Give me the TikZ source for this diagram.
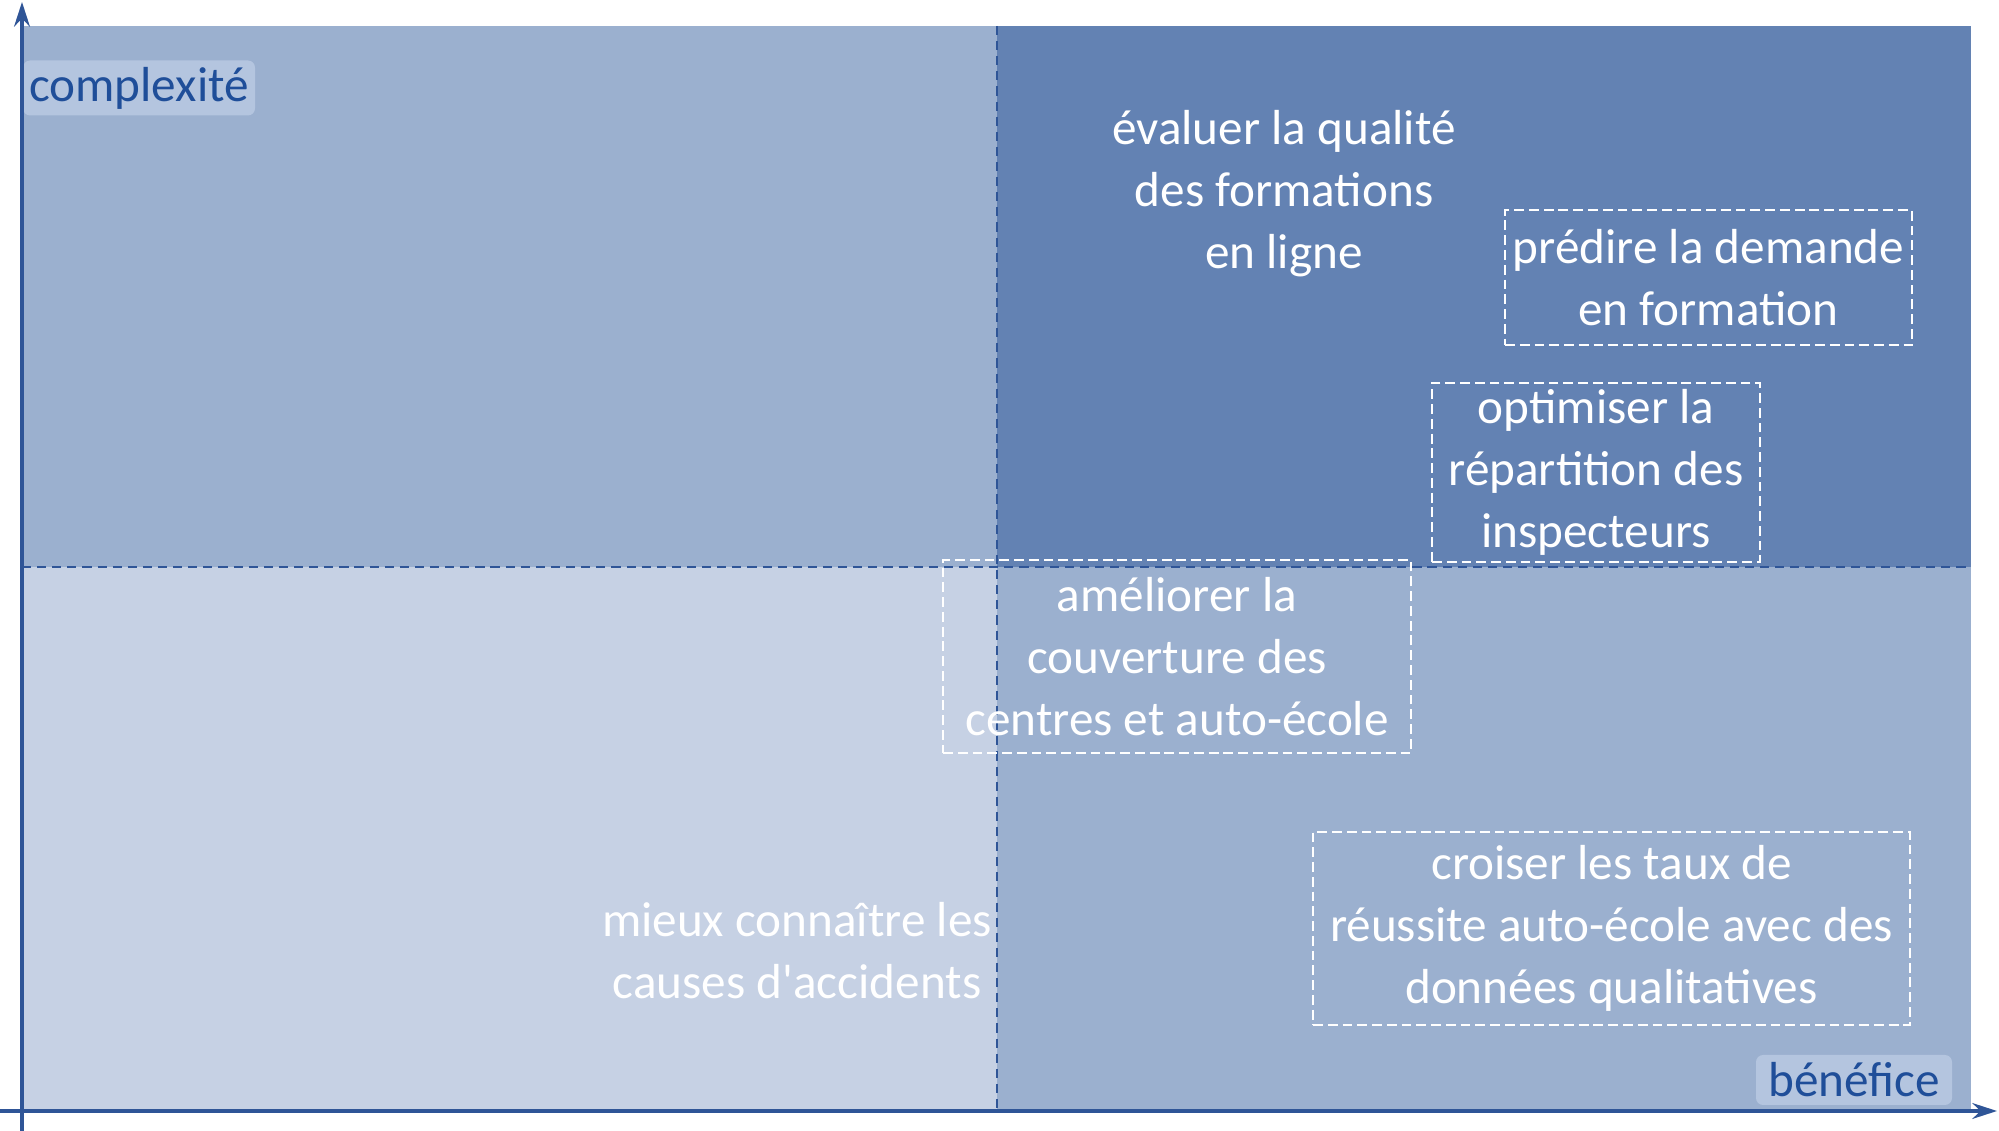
\documentclass[tikz,border=0pt]{standalone}
\usepackage{fontspec}
\setmainfont{Carlito}
\usetikzlibrary{arrows.meta,positioning}
\definecolor{axisblue}{HTML}{2F5597}
\definecolor{labelblue}{HTML}{1F4E99}
\definecolor{lowfill}{HTML}{C6D1E4}
\definecolor{midfill}{HTML}{9BB0CF}
\definecolor{highfill}{HTML}{6382B3}
\definecolor{glowfill}{HTML}{B4C5DF}

\begin{document}
\begin{tikzpicture}[font=\fontsize{14}{17.6}\selectfont, >={Stealth[length=7pt,width=4.5pt]}]
\useasboundingbox (0,0) rectangle (19.99,11.31);
\tikzstyle{idea}=[text=white,align=center,inner sep=0pt]
\tikzstyle{dashbox}=[idea,draw=white,line width=0.6pt,dash pattern=on 2.8pt off 1.4pt]
\tikzstyle{axislabel}=[text=labelblue,fill=glowfill,rounded corners=2pt,inner sep=0pt]
\tikzstyle{divider}=[draw=axisblue,line width=0.5pt,dash pattern=on 2.6pt off 1.7pt]
\tikzstyle{axis}=[->,draw=axisblue,line width=0.9pt]

% quadrants
\fill[midfill]  (0.22,5.64) rectangle (9.97,11.05);
\fill[highfill] (9.97,5.64) rectangle (19.71,11.05);
\fill[lowfill]  (0.22,0.20) rectangle (9.97,5.64);
\fill[midfill]  (9.97,0.20) rectangle (19.71,5.64);

\coordinate (vtop)   at (9.97,11.05);
\coordinate (vbot)   at (9.97,0.20);
\coordinate (hleft)  at (0.22,5.64);
\coordinate (hright) at (19.71,5.64);
\draw[divider] (vtop) -- (vbot);
\draw[divider] (hleft) -- (hright);

% items
\node[idea]    (evaluer)   at (12.84,9.37)  {évaluer la qualité\\des formations\\en ligne};
\node[dashbox,minimum width=4.07cm,minimum height=1.35cm] (predire) at (17.085,8.535) {prédire la demande\\en formation};
\node[dashbox,minimum width=3.28cm,minimum height=1.79cm] (optimiser) at (15.96,6.585) {optimiser la\\répartition des\\inspecteurs};
\node[dashbox,minimum width=4.68cm,minimum height=1.93cm] (ameliorer) at (11.77,4.745) {améliorer la\\couverture des\\centres et auto-école};
\node[dashbox,minimum width=5.97cm,minimum height=1.93cm] (croiser) at (16.115,2.025) {croiser les taux de\\réussite auto-école avec des\\données qualitatives};
\node[idea]    (mieux)     at (7.97,1.80)   {mieux connaître les\\causes d\textquotesingle accidents};

% axes
\node[axislabel,minimum width=2.32cm,minimum height=0.55cm] (complexite) at (1.39,10.43) {complexité};
\node[axislabel,minimum width=1.96cm,minimum height=0.50cm] (benefice) at (18.54,0.51) {bénéfice};
\coordinate (ybot)   at (0.22,0);
\coordinate (ytop)   at (0.22,11.29);
\coordinate (xleft)  at (0,0.20);
\coordinate (xright) at (19.97,0.20);
\draw[axis] (ybot) -- (ytop);
\draw[axis] (xleft) -- (xright);
\end{tikzpicture}
\end{document}
